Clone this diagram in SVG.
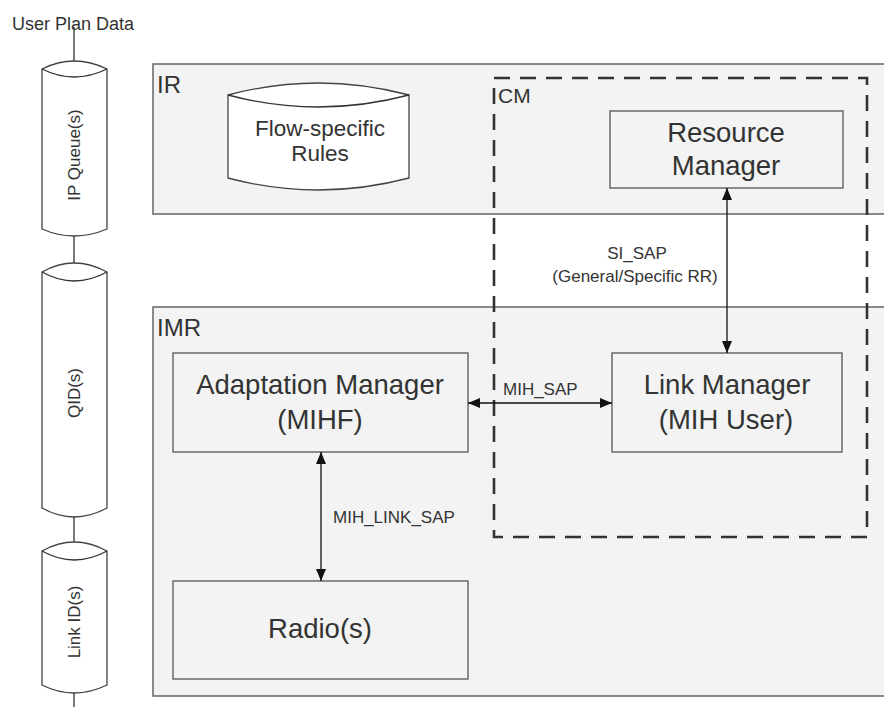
<svg xmlns="http://www.w3.org/2000/svg" width="884" height="707" viewBox="0 0 884 707">
<style>
text{font-family:"Liberation Sans",Arial,sans-serif;fill:#333}
.region{fill:#f2f3f2;stroke:#666;stroke-width:1.5}
.box{fill:#f2f3f2;stroke:#555;stroke-width:1.3}
.cyl{fill:#fff;stroke:#444;stroke-width:1.3}
.line{stroke:#333;stroke-width:1.3;fill:none}
.conn{stroke:#111;stroke-width:1.3;fill:none;marker-start:url(#ah);marker-end:url(#ah)}
.dash{fill:none;stroke:#333;stroke-width:2.6;stroke-dasharray:16 10}
.vert{font-size:17px}
.lbl{font-size:17px}
.big{font-size:27.5px}
.mid{font-size:22.5px}
.reg{font-size:24px}
</style>
<defs>
<marker id="ah" viewBox="0 0 12 12" refX="12" refY="6" markerWidth="12" markerHeight="12" markerUnits="userSpaceOnUse" orient="auto-start-reverse">
<path d="M0,1 L12,6 L0,11 Z" fill="#111"/>
</marker>
</defs>
<rect width="884" height="707" fill="#fff"/>

<text x="12" y="30" style="font-size:18px">User Plan Data</text>

<g id="queue-line">
<path class="line" d="M74,27 V62 M74,236 V263 M74,517 V542 M74,693 V707"/>
</g>

<g id="ip-queue">
<path class="cyl" d="M42,69 Q74,53 107,69 V229 Q74,243 42,229 Z"/>
<path class="line" d="M42,69 Q74,85 107,69"/>
<text class="vert" text-anchor="middle" transform="translate(80,155) rotate(-90)">IP Queue(s)</text>
</g>
<g id="qid">
<path class="cyl" d="M42,272 Q74,254 107,272 V508 Q74,526 42,508 Z"/>
<path class="line" d="M42,272 Q74,290 107,272"/>
<text class="vert" text-anchor="middle" transform="translate(80,393) rotate(-90)">QID(s)</text>
</g>
<g id="link-id">
<path class="cyl" d="M42,551 Q74,533 107,551 V685 Q74,701 42,685 Z"/>
<path class="line" d="M42,551 Q74,569 107,551"/>
<text class="vert" text-anchor="middle" transform="translate(80,622) rotate(-90)">Link ID(s)</text>
</g>

<g id="ir">
<rect class="region" x="153" y="64" width="740" height="150"/>
<text x="157" y="93" class="reg">IR</text>
</g>
<g id="flow-rules">
<path class="cyl" d="M228,95 Q318,71 409,95 V178 Q318,202 228,178 Z"/>
<path class="line" d="M228,95 Q318,119 409,95"/>
<text class="mid" text-anchor="middle" x="320" y="136">Flow-specific</text>
<text class="mid" text-anchor="middle" x="320" y="161">Rules</text>
</g>

<g id="imr">
<rect class="region" x="153" y="307" width="740" height="389"/>
<text x="157" y="336" class="reg">IMR</text>
</g>

<g id="cm">
<rect class="dash" x="494" y="78" width="373" height="459"/>
<text x="498" y="103" style="font-size:21px">CM</text>
</g>

<g id="resource-manager">
<rect class="box" x="610" y="111" width="233" height="77"/>
<text class="big" text-anchor="middle" x="726" y="142">Resource</text>
<text class="big" text-anchor="middle" x="726" y="175">Manager</text>
</g>

<g id="adaptation-manager">
<rect class="box" x="173" y="353" width="295" height="99"/>
<text class="big" text-anchor="middle" x="320" y="394">Adaptation Manager</text>
<text class="big" text-anchor="middle" x="320" y="429">(MIHF)</text>
</g>

<g id="link-manager">
<rect class="box" x="612" y="353" width="230" height="99"/>
<text class="big" text-anchor="middle" x="727" y="394">Link Manager</text>
<text class="big" text-anchor="middle" x="726" y="429">(MIH User)</text>
</g>

<g id="radio">
<rect class="box" x="173" y="581" width="295" height="98"/>
<text class="big" text-anchor="middle" x="320" y="638">Radio(s)</text>
</g>

<g id="connectors">
<line class="conn" x1="727" y1="353" x2="727" y2="188"/>
<line class="conn" x1="468" y1="403" x2="612" y2="403"/>
<line class="conn" x1="321" y1="452" x2="321" y2="581"/>
<text class="lbl" text-anchor="middle" x="637" y="259">SI_SAP</text>
<text class="lbl" text-anchor="middle" x="635" y="282">(General/Specific RR)</text>
<text class="lbl" x="503" y="395">MIH_SAP</text>
<text class="lbl" x="333" y="523">MIH_LINK_SAP</text>
</g>
</svg>
